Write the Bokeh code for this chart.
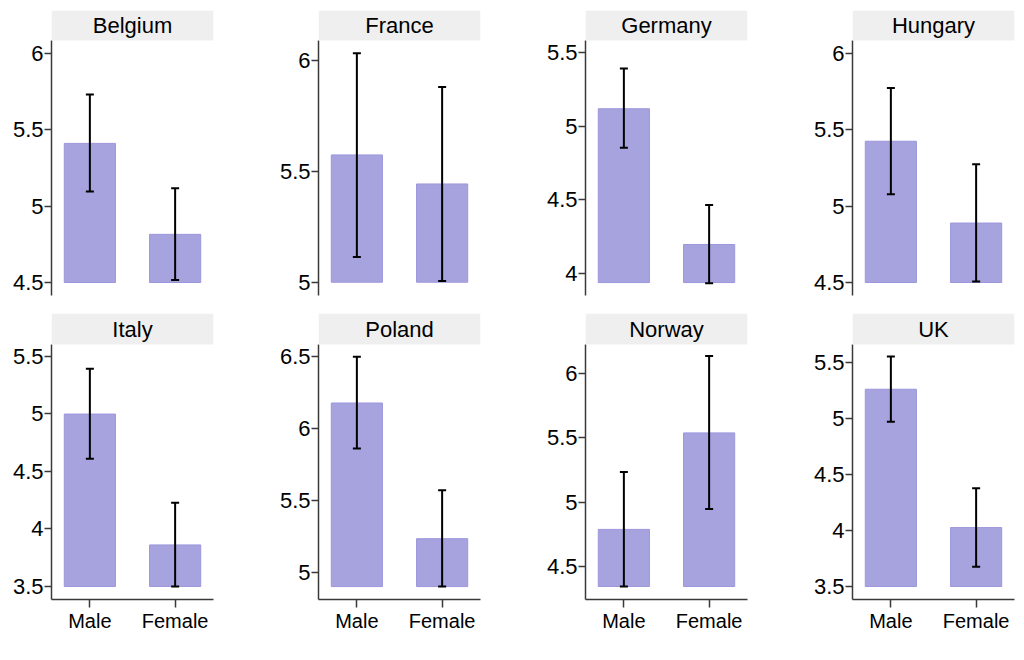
from bokeh.plotting import figure
from bokeh.models import (ColumnDataSource, FactorRange, Range1d, FixedTicker,
                          Whisker, TeeHead, BoxAnnotation, Label)
from bokeh.layouts import column, row
from bokeh.embed import file_html
from bokeh.resources import INLINE

countries = ["Belgium", "France", "Germany", "Hungary", "Italy", "Poland", "Norway", "UK"]
sexes = ["Male", "Female"]
male_mean = [5.41, 5.574, 5.118, 5.424, 4.997, 6.179, 4.790, 5.264]
male_lo = [5.096, 5.114, 4.852, 5.078, 4.609, 5.863, 4.347, 4.973]
male_hi = [5.729, 6.033, 5.391, 5.773, 5.390, 6.500, 5.236, 5.557]
female_mean = [4.815, 5.443, 4.195, 4.889, 3.861, 5.235, 5.539, 4.027]
female_lo = [4.517, 5.005, 3.932, 4.507, 3.500, 4.902, 4.948, 3.676]
female_hi = [5.116, 5.880, 4.464, 5.273, 4.226, 5.572, 6.135, 4.378]
bar_base = [4.5, 5.0, 3.936, 4.5, 3.5, 4.902, 4.347, 3.5]
y_min = [4.415, 4.94, 3.848, 4.415, 3.387, 4.812, 4.246, 3.384]
y_max = [6.083, 6.09, 5.582, 6.083, 5.601, 6.586, 6.225, 5.664]
tick_values = [3.5, 4, 4.5, 5, 5.5, 6, 6.5]
tick_labels = ["3.5", "4", "4.5", "5", "5.5", "6", "6.5"]

FONT = "Liberation Sans"
AXIS_COLOR = "#3a3a3a"
BAR_FILL = "#a7a3de"
BAR_LINE = "#9c96dc"
STRIP = "#efefef"

LEFT = 51
FRAME_W = 162
PITCH = 267
DATA_H = 255

overrides = {}
for v, lab in zip(tick_values, tick_labels):
    k = int(v) if float(v).is_integer() else v
    overrides[k] = lab


def make_panel(i, col, bottom_row):
    strip_h = 31 if bottom_row else 30
    frame_h = strip_h + DATA_H
    span = y_max[i] - y_min[i]
    y_top = y_max[i] + span * strip_h / DATA_H
    right = PITCH - LEFT - FRAME_W if col < 3 else 8
    bot = 42 if bottom_row else 16
    top = 2 if bottom_row else 10
    p = figure(width=LEFT + FRAME_W + right, height=top + frame_h + bot,
               x_range=FactorRange(*sexes, range_padding=-0.05),
               y_range=Range1d(y_min[i], y_top),
               output_backend="svg", toolbar_location=None,
               min_border_left=LEFT, min_border_right=right,
               min_border_top=top, min_border_bottom=bot)
    p.outline_line_color = None
    p.grid.visible = False
    p.background_fill_color = "white"
    p.border_fill_color = "white"

    src = ColumnDataSource(dict(
        sex=sexes,
        mean=[male_mean[i], female_mean[i]],
        lo=[male_lo[i], female_lo[i]],
        hi=[male_hi[i], female_hi[i]],
        base=[bar_base[i], bar_base[i]],
    ))
    p.vbar(x="sex", top="mean", bottom="base", width=0.6, source=src,
           fill_color=BAR_FILL, line_color=BAR_LINE, line_width=1)
    w = Whisker(source=src, base="sex", upper="hi", lower="lo",
                line_color="black", line_width=2, level="overlay",
                upper_head=TeeHead(size=8, line_color="black", line_width=2),
                lower_head=TeeHead(size=8, line_color="black", line_width=2))
    p.add_layout(w)

    p.add_layout(BoxAnnotation(bottom=y_max[i], fill_color=STRIP, fill_alpha=1.0,
                               line_color=None))
    p.add_layout(Label(x=1.0, y=(y_max[i] + y_top) / 2, text=countries[i],
                       text_align="center", text_baseline="middle",
                       text_font=FONT, text_font_size="22px", text_color="black"))

    ya = p.yaxis[0]
    ya.ticker = FixedTicker(ticks=tick_values)
    ya.major_label_overrides = overrides
    ya.bounds = (y_min[i], y_max[i])
    ya.minor_tick_line_color = None
    ya.major_tick_in = 0
    ya.major_tick_out = 7
    ya.major_tick_line_color = AXIS_COLOR
    ya.major_tick_line_width = 1.5
    ya.axis_line_color = AXIS_COLOR
    ya.axis_line_width = 1.5
    ya.major_label_text_font = FONT
    ya.major_label_text_font_size = "22px"
    ya.major_label_text_color = "black"
    ya.major_label_standoff = 1

    xa = p.xaxis[0]
    if bottom_row:
        xa.axis_line_color = AXIS_COLOR
        xa.axis_line_width = 1.5
        xa.major_tick_in = 0
        xa.major_tick_out = 8
        xa.major_tick_line_color = AXIS_COLOR
        xa.major_tick_line_width = 1.5
        xa.minor_tick_line_color = None
        xa.major_label_text_font = FONT
        xa.major_label_text_font_size = "20px"
        xa.major_label_text_color = "black"
        xa.major_label_standoff = 2
    else:
        xa.visible = False
    return p


top_row = [make_panel(i, i, False) for i in range(4)]
bottom_row = [make_panel(i + 4, i, True) for i in range(4)]
layout = column(row(*top_row), row(*bottom_row))

open("out.html", "w").write(file_html(layout, INLINE))
